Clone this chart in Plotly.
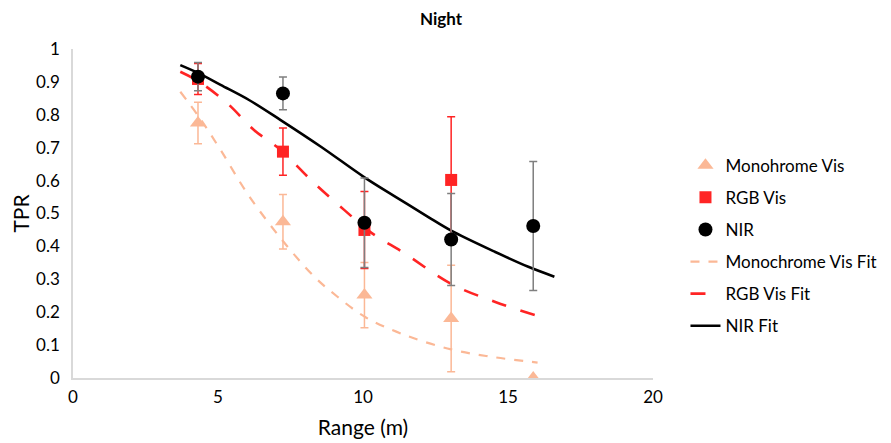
import plotly.graph_objects as go

# Measured points
range_m = [4.31, 7.24, 10.05, 13.04, 15.87]
mono_tpr = [0.775, 0.475, 0.252, 0.181, 0.0]
mono_err = [0.063, 0.083, 0.099, 0.162, 0.0]
rgb_range = [4.31, 7.24, 10.05, 13.04]
rgb_tpr = [0.909, 0.688, 0.450, 0.602]
rgb_err = [0.047, 0.072, 0.117, 0.192]
nir_tpr = [0.916, 0.865, 0.472, 0.421, 0.462]
nir_err = [0.043, 0.050, 0.136, 0.140, 0.196]

# Fit curves
nir_fit_x = [3.70, 4.34, 5.09, 6.07, 7.16, 8.55, 10.05, 11.08, 12.24, 13.04, 14.54, 15.70, 16.60]
nir_fit_y = [0.951, 0.926, 0.891, 0.845, 0.784, 0.703, 0.610, 0.553, 0.490, 0.448, 0.384, 0.338, 0.308]
rgb_fit_x = [3.70, 4.34, 5.32, 6.24, 7.16, 8.32, 9.35, 10.28, 11.43, 13.04, 14.54, 16.02]
rgb_fit_y = [0.931, 0.901, 0.835, 0.754, 0.693, 0.592, 0.511, 0.442, 0.379, 0.286, 0.232, 0.189]
mono_fit_x = [3.70, 4.34, 5.09, 6.01, 7.16, 8.32, 9.12, 10.10, 11.43, 13.04, 14.54, 16.02]
mono_fit_y = [0.870, 0.794, 0.693, 0.561, 0.425, 0.308, 0.247, 0.184, 0.131, 0.087, 0.063, 0.047]

MONO = "#FBB896"
RED = "#FF2424"
BLACK = "#000000"
FONT = "Lato, Open Sans, sans-serif"

fig = go.Figure()

fig.add_trace(go.Scatter(x=mono_fit_x, y=mono_fit_y, mode="lines", name="Monochrome Vis Fit",
                         line=dict(color=MONO, width=2.2, dash="dash", shape="spline"),
                         legendrank=4, legendgroup="d"))
fig.add_trace(go.Scatter(x=rgb_fit_x, y=rgb_fit_y, mode="lines", name="RGB Vis Fit",
                         line=dict(color=RED, width=2.6, dash="longdash", shape="spline"),
                         legendrank=5, legendgroup="e"))
fig.add_trace(go.Scatter(x=nir_fit_x, y=nir_fit_y, mode="lines", name="NIR Fit",
                         line=dict(color=BLACK, width=2.6, shape="spline"),
                         legendrank=6, legendgroup="f"))

fig.add_trace(go.Scatter(x=range_m, y=mono_tpr, mode="markers", name="Monohrome Vis",
                         marker=dict(symbol="triangle-up", size=14, color=MONO),
                         error_y=dict(type="data", array=mono_err, color=MONO, thickness=1.5, width=4),
                         legendrank=1, legendgroup="a"))
fig.add_trace(go.Scatter(x=rgb_range, y=rgb_tpr, mode="markers", name="RGB Vis",
                         marker=dict(symbol="square", size=12, color=RED),
                         error_y=dict(type="data", array=rgb_err, color=RED, thickness=1.5, width=4),
                         legendrank=2, legendgroup="b"))
fig.add_trace(go.Scatter(x=range_m, y=nir_tpr, mode="markers", name="NIR",
                         marker=dict(symbol="circle", size=14, color=BLACK),
                         error_y=dict(type="data", array=nir_err, color="#7F7F7F", thickness=1.5, width=4),
                         legendrank=3, legendgroup="c"))

# The page adds an 8px body margin, so the figure is sized to fit the window.
fig.update_layout(
    width=883, height=435,
    margin=dict(l=65, r=238, t=41, b=65, autoexpand=False),
    paper_bgcolor="white", plot_bgcolor="white",
    font=dict(family=FONT, size=17, color="#000000"),
    title=dict(text="<b>Night</b>", x=433 / 883, xanchor="center", xref="container",
               y=1 - 11 / 435, yanchor="middle", font=dict(size=17, family=FONT)),
    showlegend=True,
    legend=dict(x=1.056, xanchor="left", y=0.70, yanchor="top",
                traceorder="grouped", tracegroupgap=7,
                font=dict(size=17, family=FONT), bgcolor="rgba(0,0,0,0)"),
    xaxis=dict(range=[0, 20], dtick=5, tick0=0, showgrid=False, zeroline=False,
               showline=True, linecolor="#D9D9D9", linewidth=1.5, ticks="",
               automargin=False, ticklabelstandoff=3,
               title=dict(text="Range (m)", font=dict(size=21), standoff=14),
               tickfont=dict(size=17)),
    yaxis=dict(range=[0, 1], dtick=0.1, tick0=0, showgrid=False, zeroline=False,
               showline=True, linecolor="#D9D9D9", linewidth=1.5, ticks="",
               automargin=False, ticklabelstandoff=8,
               title=dict(text="TPR", font=dict(size=21), standoff=7),
               tickfont=dict(size=17)),
)

fig.write_html("out.html")
